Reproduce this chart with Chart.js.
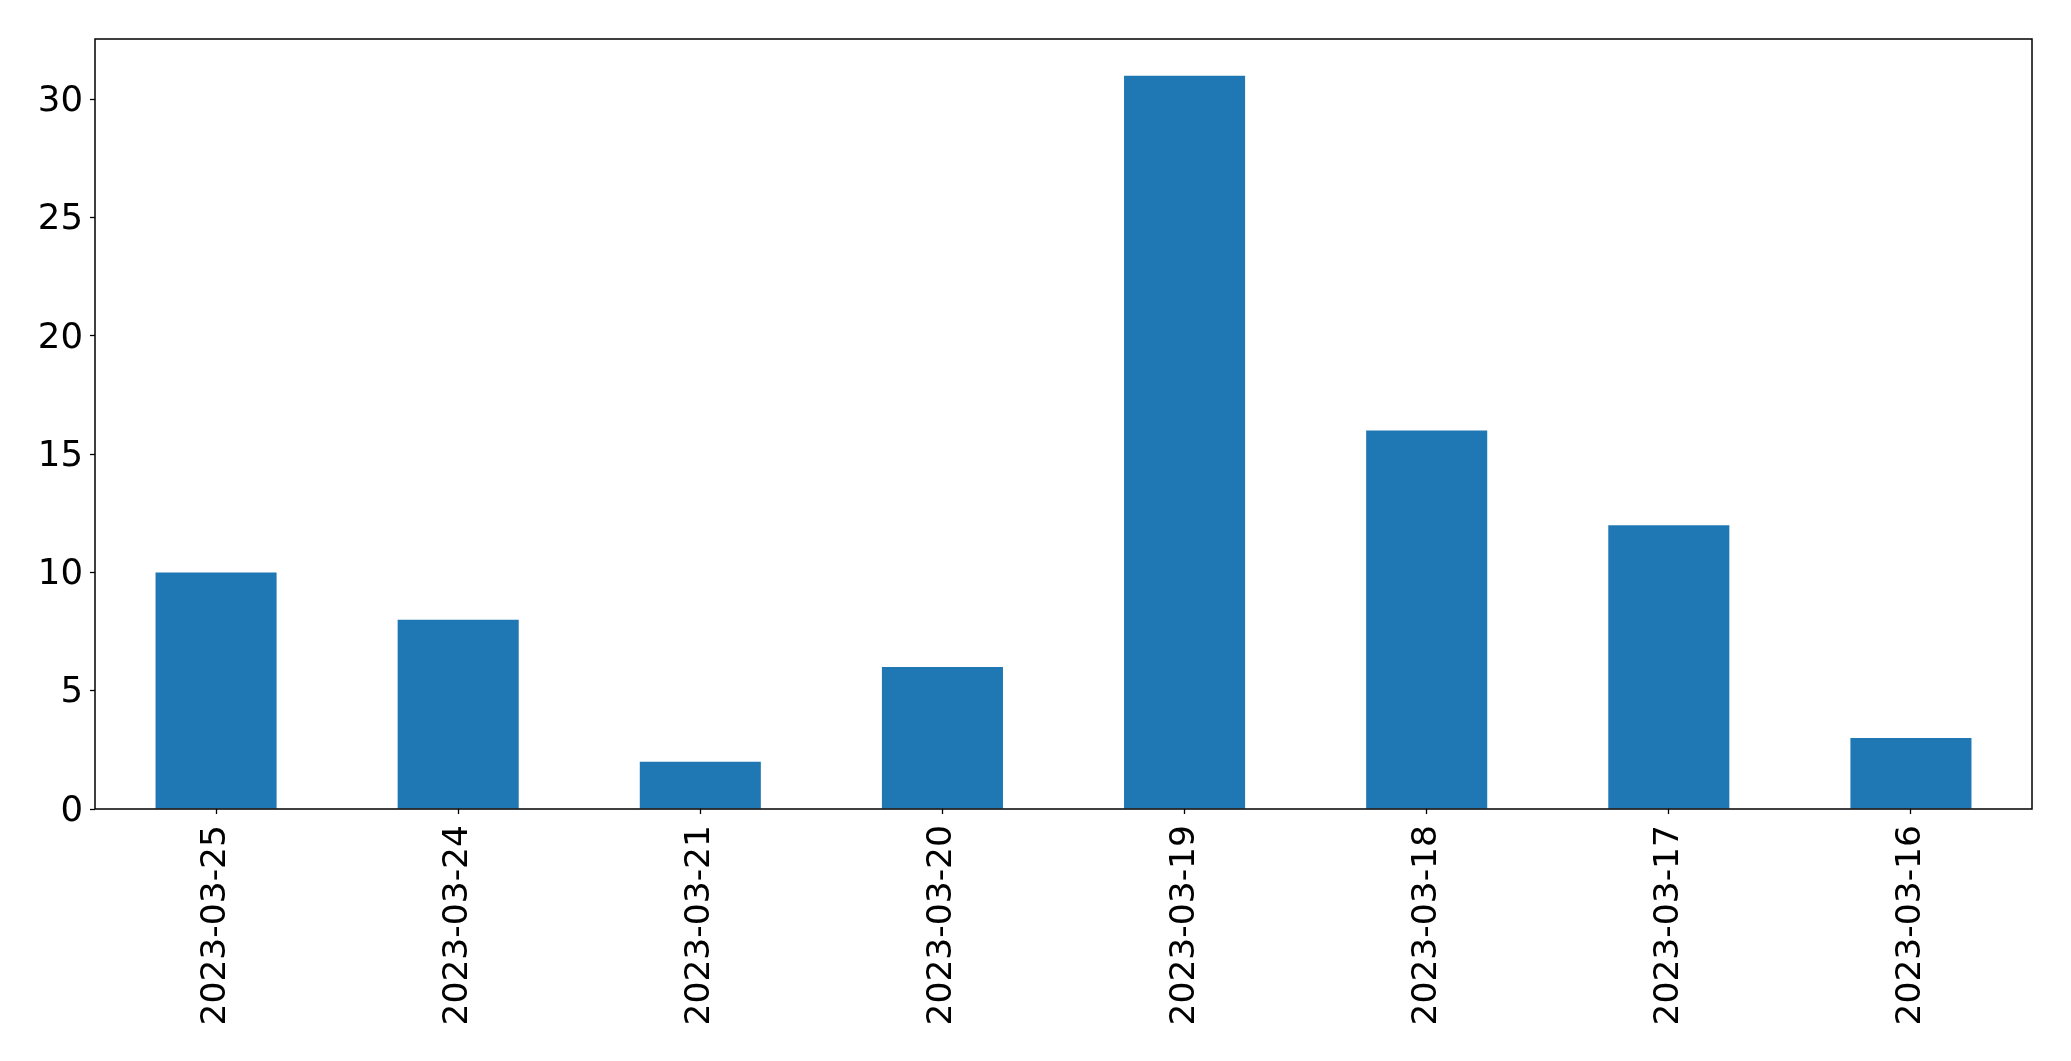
<!DOCTYPE html>
<html>
<head>
<meta charset="utf-8">
<script src="https://cdn.jsdelivr.net/npm/chart.js@4/dist/chart.umd.min.js"></script>
<style>
  html, body { margin: 0; padding: 0; background: #fff; }
  #wrap { width: 2071px; height: 1061px; }
</style>
</head>
<body>
<div id="wrap"><canvas id="chart"></canvas></div>
<script>
// data
const dates = ["2023-03-25", "2023-03-24", "2023-03-21", "2023-03-20",
               "2023-03-19", "2023-03-18", "2023-03-17", "2023-03-16"];
const counts = [10, 8, 2, 6, 31, 16, 12, 3];
const yTicks = [0, 5, 10, 15, 20, 25, 30];
const yMax = 32.55;

const FONT = "'DejaVu Sans', sans-serif";

// draw the full box around the plot area (matplotlib style frame)
const frame = {
  id: "frame",
  afterDatasetsDraw(chart) {
    const a = chart.chartArea, ctx = chart.ctx;
    ctx.save();
    ctx.strokeStyle = "#000";
    ctx.lineWidth = 1.5;
    ctx.strokeRect(a.left, a.top, a.right - a.left, a.bottom - a.top);
    ctx.restore();
  }
};

new Chart(document.getElementById("chart"), {
  type: "bar",
  data: {
    labels: dates,
    datasets: [{
      data: counts,
      backgroundColor: "#1f77b4",
      borderWidth: 0,
      categoryPercentage: 0.5,
      barPercentage: 1.0
    }]
  },
  options: {
    responsive: true,
    maintainAspectRatio: false,
    animation: false,
    layout: { padding: { top: 39, right: 39, left: 0, bottom: 0 } },
    plugins: { legend: { display: false }, tooltip: { enabled: false } },
    scales: {
      x: {
        offset: true,
        grid: { display: true, offset: false, drawOnChartArea: false, tickLength: 5, color: "#000", tickWidth: 1.3 },
        border: { display: false },
        ticks: {
          color: "#000",
          font: { family: FONT, size: 34.5 },
          minRotation: 90, maxRotation: 90,
          padding: 11,
          autoSkip: false
        },
        afterFit(scale) { scale.height = 252; }
      },
      y: {
        min: 0,
        max: yMax,
        grid: { display: true, drawOnChartArea: false, tickLength: 5, color: "#000", tickWidth: 1.3 },
        border: { display: false },
        afterBuildTicks(scale) { scale.ticks = yTicks.map(v => ({ value: v })); },
        ticks: {
          color: "#000",
          font: { family: FONT, size: 35.5 },
          padding: 7,
          labelOffset: 2.5,
          includeBounds: false
        },
        afterFit(scale) { scale.width = 95; }
      }
    }
  },
  plugins: [frame]
});
</script>
</body>
</html>
